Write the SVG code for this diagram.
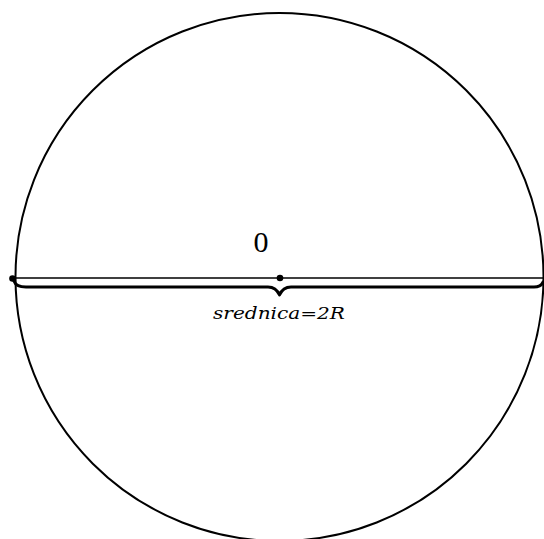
<svg xmlns="http://www.w3.org/2000/svg" width="544" height="539" viewBox="0 0 544 539">
<style>
.ln{fill:none;stroke:#000;stroke-linecap:round;stroke-linejoin:round}
.dot{fill:#000}
.t{font-family:"Liberation Serif","DejaVu Serif",serif;fill:#000}
.it{font-family:"DejaVu Serif","Liberation Serif",serif;font-style:italic;fill:#000}
</style>
<rect width="544" height="539" fill="#fff"/>
<g id="circle">
<circle class="ln" cx="279.5" cy="277" r="264" stroke-width="2"/>
</g>
<g id="connectors">
<line class="ln" x1="12" y1="278" x2="544" y2="278" stroke-width="1.6"/>
<path class="ln" stroke-width="3" d="M14,281 Q16,287 26,287 L268,287 Q276,287 279.5,295 Q283,287 291,287 L534,287 Q541,287 543,282"/>
</g>
<g id="center">
<circle class="dot" cx="280" cy="278" r="3.3"/>
<text class="t" x="261" y="252" font-size="30" text-anchor="middle">0</text>
</g>
<g id="left-point">
<circle class="dot" cx="12.5" cy="278.5" r="3.3"/>
</g>
<g id="label">
<text class="it" x="213" y="319" font-size="17.5" textLength="132" lengthAdjust="spacingAndGlyphs">srednica=2R</text>
</g>
</svg>
